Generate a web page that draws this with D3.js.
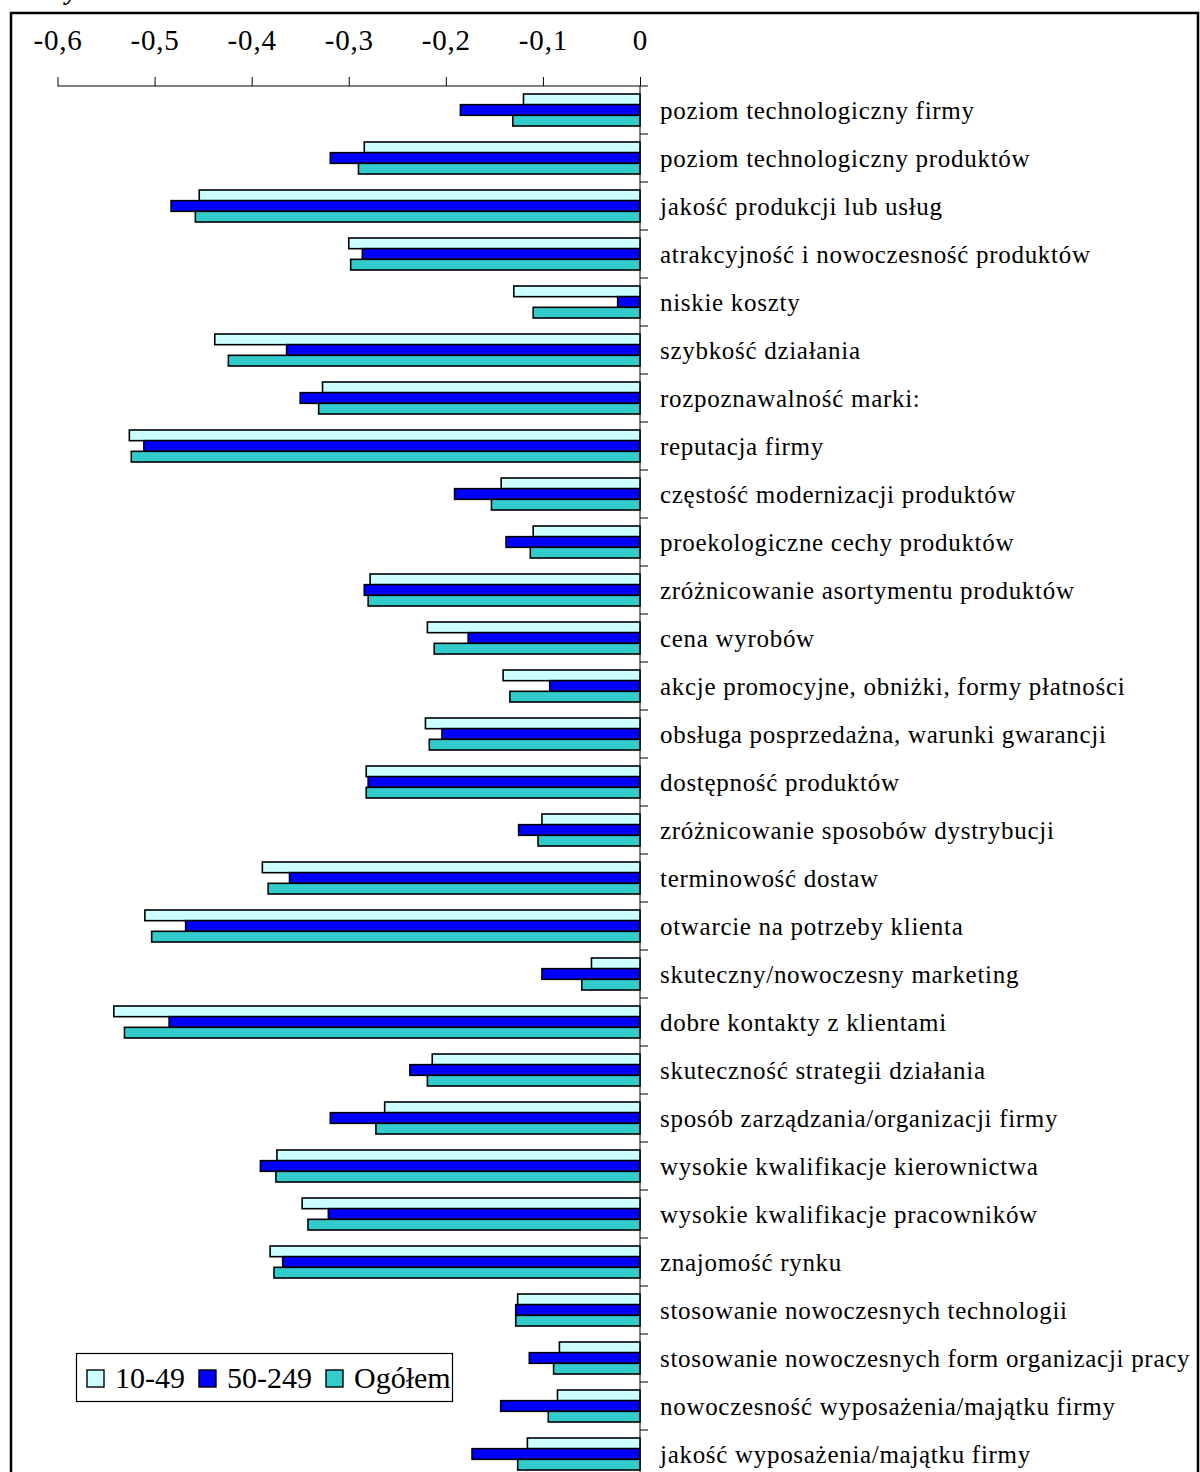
<!DOCTYPE html>
<html><head><meta charset="utf-8">
<script src="https://cdnjs.cloudflare.com/ajax/libs/d3/7.8.5/d3.min.js"></script>
<style>html,body{margin:0;padding:0;background:#fff;}svg{display:block;}</style>
</head><body>
<svg id="c" width="1200" height="1472"></svg>
<script>
const categories = [
  "poziom technologiczny firmy",
  "poziom technologiczny produktów",
  "jakość produkcji lub usług",
  "atrakcyjność i nowoczesność produktów",
  "niskie koszty",
  "szybkość działania",
  "rozpoznawalność marki:",
  "reputacja firmy",
  "częstość modernizacji produktów",
  "proekologiczne cechy produktów",
  "zróżnicowanie asortymentu produktów",
  "cena wyrobów",
  "akcje promocyjne, obniżki, formy płatności",
  "obsługa posprzedażna, warunki gwarancji",
  "dostępność produktów",
  "zróżnicowanie sposobów dystrybucji",
  "terminowość dostaw",
  "otwarcie na potrzeby klienta",
  "skuteczny/nowoczesny marketing",
  "dobre kontakty z klientami",
  "skuteczność strategii działania",
  "sposób zarządzania/organizacji firmy",
  "wysokie kwalifikacje kierownictwa",
  "wysokie kwalifikacje pracowników",
  "znajomość rynku",
  "stosowanie nowoczesnych technologii",
  "stosowanie nowoczesnych form organizacji pracy",
  "nowoczesność wyposażenia/majątku firmy",
  "jakość wyposażenia/majątku firmy"
];
const seriesNames = ["10-49", "50-249", "Ogółem"];
const small = [-0.120,-0.284,-0.454,-0.300,-0.130,-0.438,-0.327,-0.526,-0.143,-0.110,-0.278,-0.219,-0.141,-0.221,-0.282,-0.101,-0.389,-0.510,-0.050,-0.542,-0.214,-0.263,-0.374,-0.348,-0.381,-0.126,-0.083,-0.085,-0.116];
const medium = [-0.185,-0.319,-0.483,-0.286,-0.023,-0.364,-0.350,-0.511,-0.191,-0.138,-0.284,-0.177,-0.093,-0.204,-0.280,-0.125,-0.361,-0.468,-0.101,-0.485,-0.237,-0.319,-0.391,-0.321,-0.368,-0.128,-0.114,-0.1435,-0.173];
const total = [-0.131,-0.290,-0.458,-0.298,-0.110,-0.424,-0.331,-0.524,-0.153,-0.113,-0.280,-0.212,-0.134,-0.217,-0.282,-0.105,-0.383,-0.503,-0.060,-0.531,-0.219,-0.272,-0.375,-0.342,-0.377,-0.128,-0.089,-0.0945,-0.126];
const tickValues = [-0.6,-0.5,-0.4,-0.3,-0.2,-0.1,0];
const tickLabels = ["-0,6","-0,5","-0,4","-0,3","-0,2","-0,1","0"];
const colors = ["#CCFFFF", "#0000FF", "#33CCCC"];

const svg = d3.select("#c");
const serif = "'Liberation Serif','Times New Roman',serif";

// frame
svg.append("rect").attr("x",11).attr("y",13).attr("width",1187).attr("height",1480)
  .attr("fill","none").attr("stroke","#000").attr("stroke-width",2.5);

// cut-off title (only descender visible, as in the reference)
svg.append("text").attr("x",44).attr("y",0).attr("font-family",serif)
  .attr("font-size",26).attr("font-weight","bold").attr("font-style","italic").text("Wykres");

const x = d3.scaleLinear().domain([-0.6, 0]).range([57.5, 640]);
const y = d3.scaleBand().domain(categories).range([86, 86 + 48*categories.length]);
const ys = d3.scaleBand().domain(seriesNames).range([8, 40]);

// top axis
const axisY = 86;
const gA = svg.append("g").attr("transform",`translate(0,${axisY})`);
gA.call(d3.axisTop(x).tickValues(tickValues).tickSize(9).tickSizeOuter(0).tickFormat((d,i)=>tickLabels[i]));
gA.select(".domain").remove();
gA.append("line").attr("x1",x(-0.6)).attr("x2",x(0)+8).attr("y1",0).attr("y2",0).attr("stroke","#000").attr("stroke-width",1);
gA.selectAll(".tick line").attr("stroke","#000").attr("stroke-width",1);
gA.selectAll(".tick text").attr("font-family",serif).attr("font-size",29).attr("fill","#000")
  .attr("letter-spacing",0.8).attr("y",-36).attr("dy",0);

// vertical axis with ticks at band boundaries
const gV = svg.append("g");
gV.append("line").attr("x1",x(0)).attr("x2",x(0)).attr("y1",axisY).attr("y2",1472).attr("stroke","#000").attr("stroke-width",1);
gV.selectAll("line.b").data(categories).enter().append("line").attr("class","b")
  .attr("x1",x(0)).attr("x2",x(0)+8).attr("y1",d=>y(d)+y.bandwidth()).attr("y2",d=>y(d)+y.bandwidth())
  .attr("stroke","#000").attr("stroke-width",1);

// bars
const series = [small, medium, total];
series.forEach((vals, si) => {
  svg.append("g").selectAll("rect").data(vals).enter().append("rect")
    .attr("x", d => x(d))
    .attr("y", (d,i) => y(categories[i]) + ys(seriesNames[si]))
    .attr("width", d => x(0) - x(d))
    .attr("height", ys.bandwidth())
    .attr("fill", colors[si]).attr("stroke","#000").attr("stroke-width",1.6);
});

// category labels
svg.append("g").selectAll("text").data(categories).enter().append("text")
  .attr("x", 660).attr("y", d => y(d) + y.bandwidth()/2 + 9)
  .attr("font-family", serif).attr("font-size", 25).attr("letter-spacing", 0.7)
  .attr("fill","#000").text(d=>d);

// legend
const lg = svg.append("g");
lg.append("rect").attr("x",76.5).attr("y",1353.5).attr("width",376).attr("height",48)
  .attr("fill","#fff").attr("stroke","#000").attr("stroke-width",1.2);
const legX = [87, 199, 326];
seriesNames.forEach((n,i)=>{
  lg.append("rect").attr("x",legX[i]).attr("y",1370).attr("width",17).attr("height",17)
    .attr("fill",colors[i]).attr("stroke","#000").attr("stroke-width",1.4);
  lg.append("text").attr("x",legX[i]+28).attr("y",1388).attr("font-family",serif)
    .attr("font-size",30).attr("fill","#000").text(n);
});
</script>
</body></html>
